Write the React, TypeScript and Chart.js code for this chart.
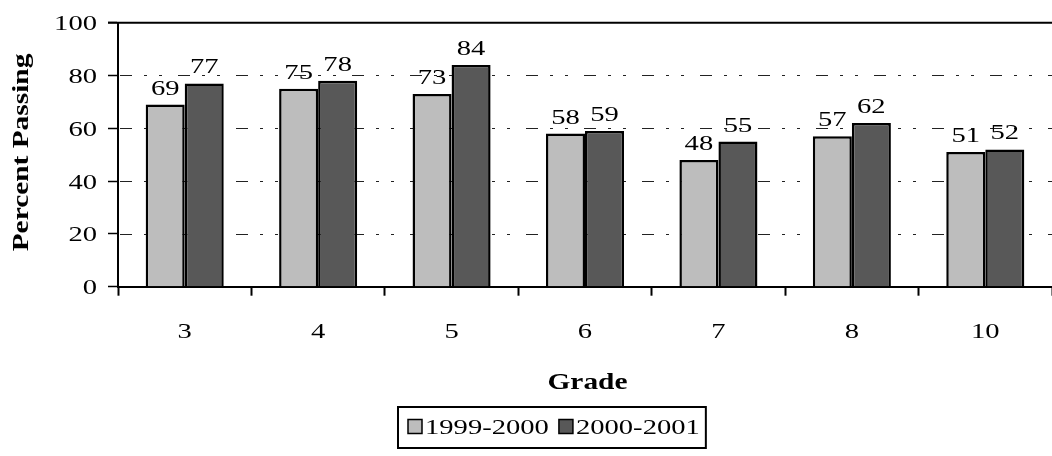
import React, { useEffect, useRef } from 'react';
import { Chart, registerables } from 'chart.js';

Chart.register(...registerables);

const categories = ['3', '4', '5', '6', '7', '8', '10'];
const series1999 = [69, 75, 73, 58, 48, 57, 51];
const series2000 = [77, 78, 84, 59, 55, 62, 52];
const seriesNames = ['1999-2000', '2000-2001'];
const yTickValues = [0, 20, 40, 60, 80, 100];
const xTitle = 'Grade';
const yTitle = 'Percent Passing';

const W = 1052;
const H = 456;
const SERIF = '"Liberation Serif", "Times New Roman", serif';
const LIGHT = '#bdbdbd';
const DARK = '#585858';

type TextOpts = { size: number; bold?: boolean; k: number; align: CanvasTextAlign; rot?: number };

function drawText(ctx: CanvasRenderingContext2D, text: string, x: number, y: number, o: TextOpts) {
  ctx.save();
  ctx.translate(x, y);
  if (o.rot) ctx.rotate(o.rot);
  ctx.scale(o.k, 1);
  ctx.font = `${o.bold ? 'bold ' : ''}${o.size}px ${SERIF}`;
  ctx.textAlign = o.align;
  ctx.textBaseline = 'alphabetic';
  ctx.fillStyle = '#000';
  ctx.fillText(text, 0, 0);
  ctx.restore();
}

function textWidth(ctx: CanvasRenderingContext2D, text: string, o: TextOpts) {
  ctx.save();
  ctx.font = `${o.bold ? 'bold ' : ''}${o.size}px ${SERIF}`;
  const w = ctx.measureText(text).width * o.k;
  ctx.restore();
  return w;
}

const REG: TextOpts = { size: 22, k: 1.3, align: 'center' };
const BOLD: TextOpts = { size: 23.5, bold: true, k: 1.25, align: 'center' };

const customPlugin = {
  id: 'customDraw',
  beforeDatasetsDraw(chart: any) {
    const ctx: CanvasRenderingContext2D = chart.ctx;
    const ys = chart.scales.y;
    const { left } = chart.chartArea;
    ctx.save();
    for (const v of yTickValues) {
      if (v === 0 || v === 100) continue;
      const py = Math.round(ys.getPixelForValue(v)) + 0.5;
      ctx.setLineDash([12, 12, 3, 12, 3, 16]);
      ctx.lineWidth = 1.2;
      ctx.strokeStyle = '#222';
      ctx.beginPath();
      ctx.moveTo(left + 2, py);
      ctx.lineTo(W, py);
      ctx.stroke();
    }
    ctx.restore();
  },
  afterDraw(chart: any) {
    const ctx: CanvasRenderingContext2D = chart.ctx;
    const ys = chart.scales.y;
    const xs = chart.scales.x;
    const { left } = chart.chartArea;

    // top line at max value
    ctx.save();
    ctx.setLineDash([]);
    ctx.strokeStyle = '#000';
    ctx.lineWidth = 2;
    const pTop = ys.getPixelForValue(100);
    ctx.beginPath();
    ctx.moveTo(left - 10, pTop);
    ctx.lineTo(W, pTop);
    ctx.stroke();
    ctx.restore();

    // y tick labels
    for (const v of yTickValues) {
      const py = ys.getPixelForValue(v);
      drawText(ctx, String(v), 97, py + 0.338 * REG.size, { ...REG, align: 'right' });
    }
    // x tick labels
    categories.forEach((c, i) => {
      const px = xs.getPixelForValue(i);
      drawText(ctx, c, px, 338, REG);
    });
    // data labels
    chart.data.datasets.forEach((ds: any, di: number) => {
      const meta = chart.getDatasetMeta(di);
      meta.data.forEach((el: any, i: number) => {
        drawText(ctx, String(ds.data[i]), el.x, el.y - 10, REG);
      });
    });
    // axis titles
    drawText(ctx, yTitle, 28, 152.5, { ...BOLD, rot: -Math.PI / 2 });
    drawText(ctx, xTitle, 587.5, 389, BOLD);

    // legend
    const boxL = 398;
    const boxT = 407;
    const boxB = 448;
    const marker = 14;
    const textY = 434;
    let x = boxL + 10;
    const colors = [LIGHT, DARK];
    ctx.save();
    seriesNames.forEach((name, i) => {
      const my = textY - 7.5 - marker / 2;
      ctx.fillStyle = colors[i];
      ctx.fillRect(x, my, marker, marker);
      ctx.strokeStyle = '#000';
      ctx.lineWidth = 1.5;
      ctx.strokeRect(x, my, marker, marker);
      x += marker + 3;
      drawText(ctx, name, x, textY, { ...REG, align: 'left' });
      x += textWidth(ctx, name, REG) + 10;
    });
    const boxR = x - 4;
    ctx.strokeStyle = '#000';
    ctx.lineWidth = 2;
    ctx.strokeRect(boxL, boxT, boxR - boxL, boxB - boxT);
    ctx.restore();
  },
};

export default function App() {
  const ref = useRef<HTMLCanvasElement | null>(null);
  useEffect(() => {
    document.body.style.margin = '0';
    const canvas = ref.current;
    if (!canvas) return;
    const chart = new Chart(canvas, {
      type: 'bar',
      data: {
        labels: categories,
        datasets: [
          {
            label: seriesNames[0],
            data: series1999,
            backgroundColor: LIGHT,
            borderColor: '#000',
            borderWidth: 2.5,
            categoryPercentage: 0.585,
            barPercentage: 1,
          },
          {
            label: seriesNames[1],
            data: series2000,
            backgroundColor: DARK,
            borderColor: '#000',
            borderWidth: 2.5,
            categoryPercentage: 0.585,
            barPercentage: 1,
          },
        ],
      },
      options: {
        responsive: false,
        animation: false,
        devicePixelRatio: 1,
        layout: { padding: { top: 22.7, left: 0, right: 0, bottom: 0 } },
        plugins: { legend: { display: false }, tooltip: { enabled: false } },
        scales: {
          x: {
            grid: {
              display: true,
              offset: true,
              drawOnChartArea: false,
              drawTicks: true,
              tickLength: 9,
              tickColor: '#000',
              tickWidth: 2,
            },
            border: { display: true, color: '#000', width: 2 },
            ticks: { display: false },
            afterFit: (s: any) => {
              s.height = H - 286.7;
            },
          },
          y: {
            min: 0,
            max: 100,
            ticks: { display: false, stepSize: 20 },
            grid: {
              drawOnChartArea: false,
              drawTicks: true,
              tickLength: 10,
              tickColor: '#000',
              tickWidth: 1.5,
            },
            border: { display: true, color: '#000', width: 2 },
            afterFit: (s: any) => {
              s.width = 118;
            },
          },
        },
      },
      plugins: [customPlugin],
    } as any);
    return () => chart.destroy();
  }, []);
  return (
    <canvas
      ref={ref}
      width={W}
      height={H}
      style={{ display: 'block', width: W, height: H }}
    />
  );
}
